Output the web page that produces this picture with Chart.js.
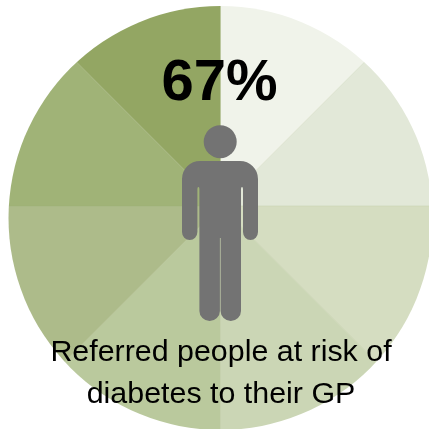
<!DOCTYPE html>
<html lang="en">

<head>
    <meta charset="UTF-8">
    <title>Referred people at risk of diabetes</title>
    <script src="https://cdn.jsdelivr.net/npm/chart.js"></script>
    <style>
        html, body {
            margin: 0;
            background: #fff;
            overflow: hidden;
        }

        .box {
            position: relative;
            width: 429px;
            height: 429px;
            font-family: "Liberation Sans", Arial, sans-serif;
            color: #000;
        }

        canvas, svg {
            position: absolute;
            left: 0;
            top: 0;
        }

        .pct {
            position: absolute;
            left: 0;
            width: 439px;
            top: 47px;
            text-align: center;
            font-size: 58px;
            line-height: 66px;
            font-weight: bold;
        }

        .label {
            position: absolute;
            left: 0;
            width: 442px;
            top: 329px;
            text-align: center;
            font-size: 30.4px;
            line-height: 42px;
        }
    </style>
</head>

<body>
    <div class="box">
        <canvas id="chart" width="429" height="429"></canvas>
        <svg width="429" height="429" viewBox="0 0 429 429">
            <circle cx="220.2" cy="141.7" r="16.5" fill="#737373"></circle>
            <path fill="#737373" d="M182 179 A18 18 0 0 1 200 161 H240 A18 18 0 0 1 258 179 V232 A7.5 8 0 0 1 243 232 V189
                A1 2 0 0 0 241 189 V311 A10.2 10 0 0 1 220.6 311 V238 H219.9 V311 A10.2 10 0 0 1 199.4 311 V189
                A1 2 0 0 0 197.4 189 V232 A7.7 8 0 0 1 182 232 Z"></path>
        </svg>
        <div class="pct">67%</div>
        <div class="label">Referred people at risk of<br>diabetes to their GP</div>
    </div>

    <script>
        // 8 equal wedges, clockwise from 12 o'clock
        const sliceLabels = ['1', '2', '3', '4', '5', '6', '7', '8'];
        const sliceValues = [1, 1, 1, 1, 1, 1, 1, 1];
        const sliceColors = ['#f0f3ea', '#e2e8d8', '#d5ddc1', '#cbd6b5', '#bac99d', '#adbb8a', '#a0b377', '#93a663'];

        // the wedges meet above the middle of the disc, so the pie is drawn big and cut to the circle
        const cutCircle = {
            id: 'cutCircle',
            beforeDatasetsDraw(chart) {
                const ctx = chart.ctx;
                ctx.save();
                ctx.beginPath();
                ctx.arc(220.5, 218, 212, 0, Math.PI * 2);
                ctx.clip();
            },
            afterDatasetsDraw(chart) {
                chart.ctx.restore();
            }
        };

        const myChart = new Chart(document.getElementById('chart'), {
            type: 'pie',
            data: {
                labels: sliceLabels,
                datasets: [{
                    data: sliceValues,
                    backgroundColor: sliceColors,
                    borderColor: 'rgba(147, 166, 99, 0.2)',
                    borderWidth: 0.5,
                    clip: false
                }]
            },
            options: {
                responsive: false,
                animation: false,
                radius: 240,
                layout: { padding: { left: 12, bottom: 17 } },
                plugins: {
                    legend: { display: false },
                    tooltip: { enabled: false }
                }
            },
            plugins: [cutCircle]
        });
    </script>
</body>

</html>
